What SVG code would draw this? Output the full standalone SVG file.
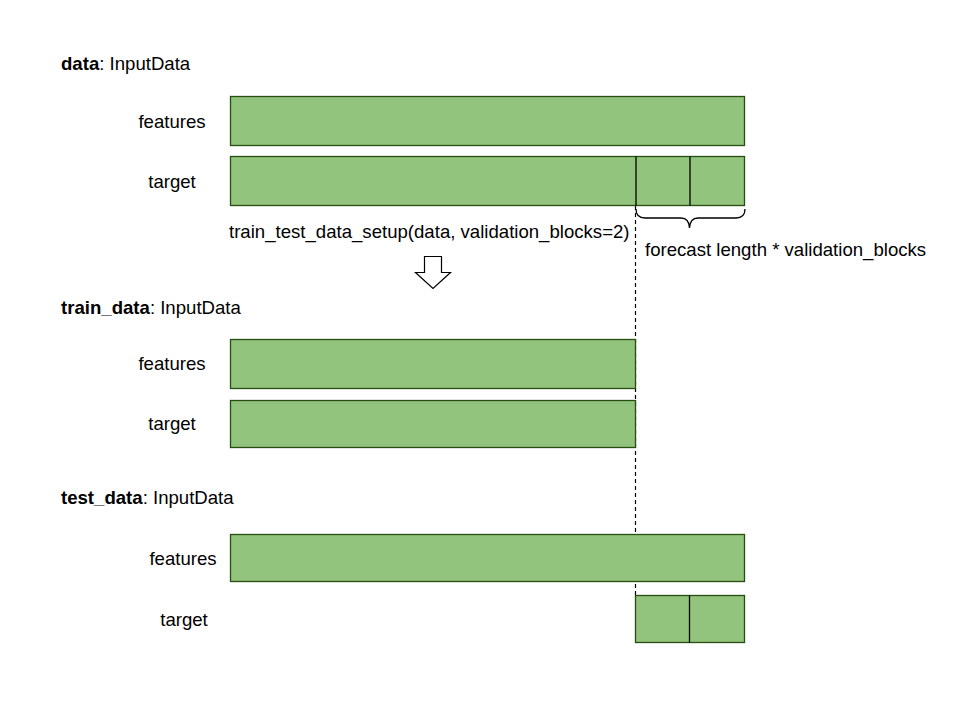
<svg xmlns="http://www.w3.org/2000/svg" width="960" height="720" viewBox="0 0 960 720">
<style>
.bar{fill:#93c47d;stroke:#274e13;stroke-width:1.3}
.t{font-family:"Liberation Sans",Arial,sans-serif;font-size:18.6px;fill:#000}
.c{text-anchor:middle}
.b{font-weight:bold}
.ln{stroke:#000;stroke-width:1.3;fill:none}
</style>
<rect width="960" height="720" fill="#fff"/>
<g id="connectors">
<line x1="635.5" y1="206" x2="635.5" y2="595" stroke="#000" stroke-width="1.2" stroke-dasharray="4,3"/>
<path class="ln" d="M636 209 Q636 218 645 218 H681 Q689 218 689.5 228 Q690 218 698 218 H736 Q745 218 745 209"/>
</g>
<text class="t" x="61" y="70"><tspan class="b">data</tspan>: InputData</text>
<g id="data-features"><rect class="bar" x="230.5" y="96.5" width="514" height="49"/><text class="t c" x="172" y="128">features</text></g>
<g id="data-target"><rect class="bar" x="230.5" y="156.5" width="514" height="49"/><line class="ln" x1="636" y1="156.5" x2="636" y2="205.5"/><line class="ln" x1="690" y1="156.5" x2="690" y2="205.5"/><text class="t c" x="172" y="188">target</text></g>
<text class="t" x="229" y="238">train_test_data_setup(data, validation_blocks=2)</text>
<text class="t" x="645" y="256">forecast length * validation_blocks</text>
<g id="arrow"><path d="M424.5 256.5 H441.5 V272.5 H450.5 L433 288.5 L415.5 272.5 H424.5 Z" fill="#fff" stroke="#000" stroke-width="1.2"/></g>
<text class="t" x="61" y="314"><tspan class="b">train_data</tspan>: InputData</text>
<g id="train-features"><rect class="bar" x="230.5" y="339.5" width="405" height="49"/><text class="t c" x="172" y="370">features</text></g>
<g id="train-target"><rect class="bar" x="230.5" y="400.5" width="405" height="47"/><text class="t c" x="172" y="430">target</text></g>
<text class="t" x="61" y="504"><tspan class="b">test_data</tspan>: InputData</text>
<g id="test-features"><rect class="bar" x="230.5" y="534.5" width="514" height="47"/><text class="t c" x="183" y="565">features</text></g>
<g id="test-target"><rect class="bar" x="635.5" y="595.5" width="109" height="47"/><line class="ln" x1="689.5" y1="595.5" x2="689.5" y2="642.5" stroke="#274e13"/><text class="t c" x="184" y="626">target</text></g>
</svg>
